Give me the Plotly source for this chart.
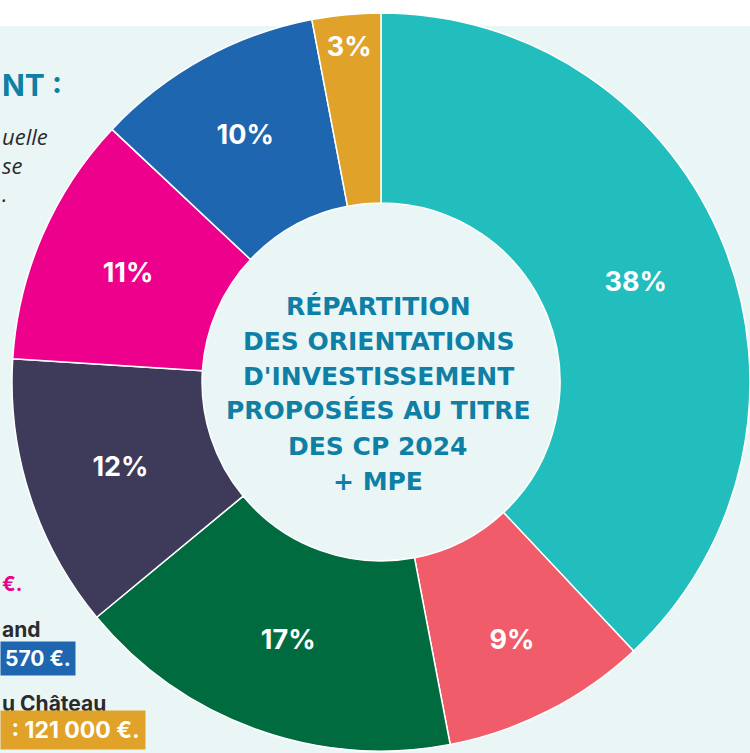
import plotly.graph_objects as go

# ---- data ----
categories = ["Catégorie A", "Catégorie B", "Catégorie C", "Catégorie D",
              "Catégorie E", "Catégorie F", "Catégorie G"]
shares = [38, 9, 17, 12, 11, 10, 3]
colors = ["#22BDBD", "#F05C6A", "#006B3F", "#3E3A59", "#EC008C", "#1F66B0", "#E0A229"]
center_lines = ["RÉPARTITION", "DES ORIENTATIONS", "D'INVESTISSEMENT",
                "PROPOSÉES AU TITRE", "DES CP 2024", "+ MPE"]

W, H = 750, 753
BG = "#EAF6F6"
TXT = "#0E7FA5"
DARK = "#2B2B2B"


def px(x):
    return x / W


def py(y):
    return 1 - y / H


cx, cy, r = 381, 382, 369

fig = go.Figure()
fig.add_trace(go.Pie(
    labels=categories,
    values=shares,
    text=[f"{v}%" for v in shares],
    textinfo="text",
    textposition="inside",
    insidetextorientation="horizontal",
    hole=0.485,
    sort=False,
    direction="clockwise",
    rotation=0,
    marker=dict(colors=colors, line=dict(color="white", width=1.5)),
    insidetextfont=dict(family="Inter", size=27, color="white", weight=700),
    domain=dict(x=[(cx - r) / W, 1], y=[(H - cy - r) / H, (H - cy + r) / H]),
    showlegend=False,
    hoverinfo="label+percent",
))

annotations = []
# centre title, one annotation per line
for i, line in enumerate(center_lines):
    annotations.append(dict(
        x=px(378), y=py(306 + 35 * i),
        text=f"<b>{line}</b>", xanchor="center",
        font=dict(family="DejaVu Sans", size=25, color=TXT),
    ))

# side texts (cropped in the reference)
annotations += [
    dict(x=px(0), y=py(85), text="<b>NT :</b>", xanchor="left",
         font=dict(family="Inter", size=30, color=TXT)),
    dict(x=px(0), y=py(164), text="<i>uelle<br>se<br>.</i>", xanchor="left",
         align="left", font=dict(family="Open Sans", size=22, color=DARK)),
    dict(x=px(0), y=py(584), text="<b>€.</b>", xanchor="left",
         font=dict(family="Inter", size=20, color="#EC008C")),
    dict(x=px(0), y=py(629), text="<b>and</b>", xanchor="left",
         font=dict(family="Inter", size=21, color=DARK)),
    dict(x=px(0), y=py(658), text="<b>570 €.</b>", xanchor="left",
         font=dict(family="Inter", size=21, color="white"),
         bgcolor="#1F66B0", borderpad=4),
    dict(x=px(0), y=py(703), text="<b>u Château</b>", xanchor="left",
         font=dict(family="Inter", size=21, color=DARK)),
    dict(x=px(0), y=py(730), text="<b> : 121 000 €.</b>", xanchor="left",
         font=dict(family="Inter", size=23, color="white"),
         bgcolor="#E0A229", borderpad=5),
]
for a in annotations:
    a.setdefault("xref", "paper")
    a.setdefault("yref", "paper")
    a.setdefault("showarrow", False)
    a.setdefault("yanchor", "middle")

fig.update_layout(
    width=W, height=H,
    margin=dict(l=0, r=0, t=0, b=0),
    paper_bgcolor=BG,
    plot_bgcolor=BG,
    annotations=annotations,
    shapes=[dict(type="rect", xref="paper", yref="paper", x0=0, x1=1,
                 y0=py(26), y1=1, fillcolor="white", line=dict(width=0),
                 layer="below")],
)

fig.write_html("out.html", config={"displayModeBar": False},
               post_script="document.body.style.margin='0px';")
